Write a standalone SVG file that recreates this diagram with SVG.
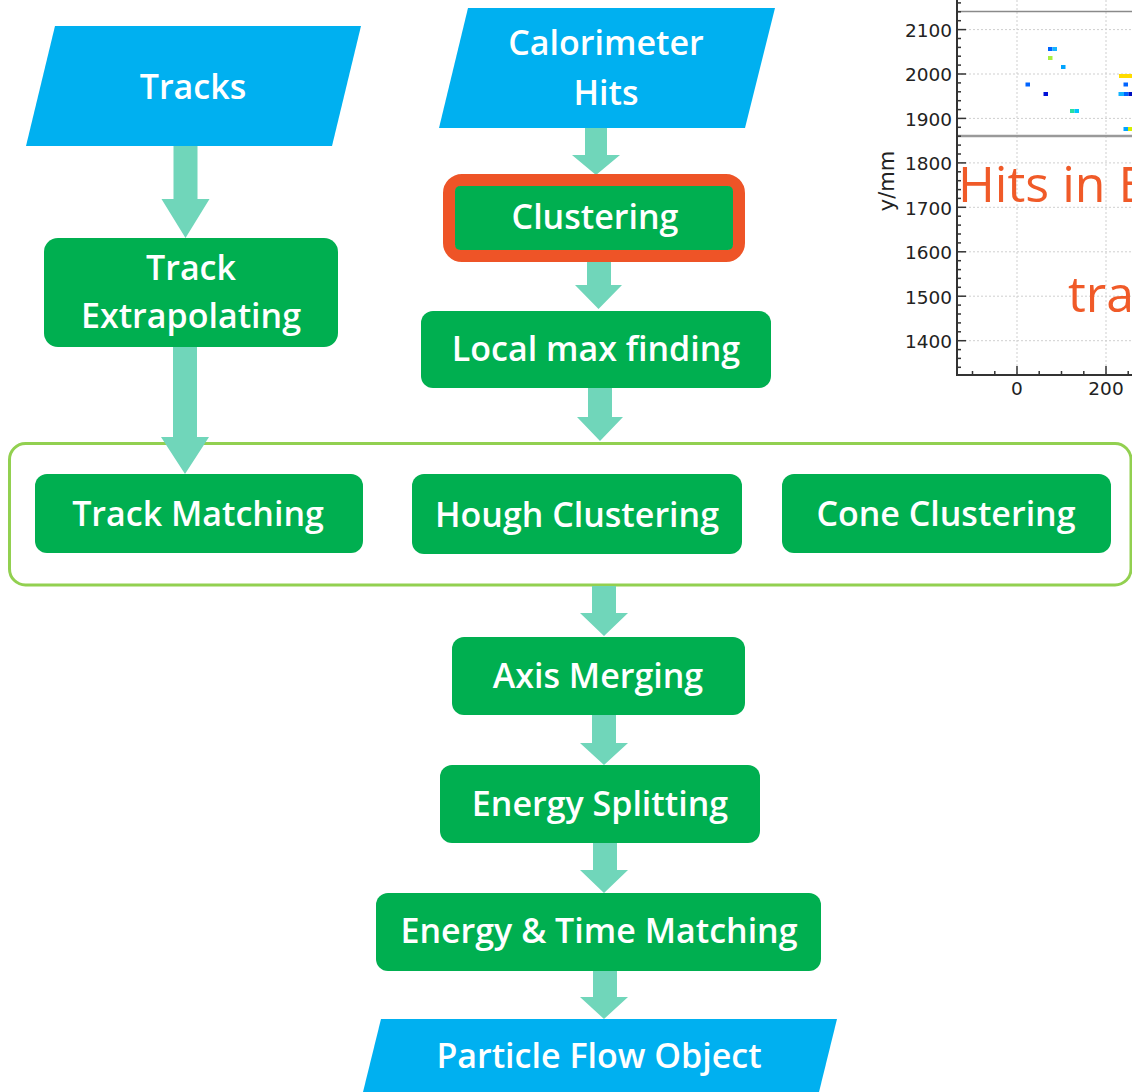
<svg xmlns="http://www.w3.org/2000/svg" width="1132" height="1092" viewBox="0 0 1132 1092">
  <style>
    .io { fill: #00B0F0; }
    .proc { fill: #00AF50; }
    .lbl { font-family: "Open Sans", "Liberation Sans", sans-serif; font-weight: 600; font-size: 34px; fill: #ffffff; text-anchor: middle; }
    .arrow { fill: #70D6BA; }
    .grid { stroke: #cfcfcf; stroke-width: 1; stroke-dasharray: 2 2; fill: none; }
    .axis { stroke: #333333; stroke-width: 2; fill: none; }
    .tick { stroke: #333333; stroke-width: 1.5; }
    .tlbl { font-family: "DejaVu Sans", sans-serif; font-size: 18.5px; fill: #222222; }
    .note { font-family: "Open Sans", "Liberation Sans", sans-serif; font-size: 50px; fill: #F05A28; }
  </style>

  <!-- event display inset (top right) -->
  <g id="plot">
    <!-- dotted grid -->
    <g class="grid">
      <line x1="957" y1="29.6" x2="1132" y2="29.6"/>
      <line x1="957" y1="74" x2="1132" y2="74"/>
      <line x1="957" y1="118.4" x2="1132" y2="118.4"/>
      <line x1="957" y1="162.9" x2="1132" y2="162.9"/>
      <line x1="957" y1="207.3" x2="1132" y2="207.3"/>
      <line x1="957" y1="251.8" x2="1132" y2="251.8"/>
      <line x1="957" y1="296.2" x2="1132" y2="296.2"/>
      <line x1="957" y1="340.7" x2="1132" y2="340.7"/>
      <line x1="1017" y1="0" x2="1017" y2="375"/>
      <line x1="1106" y1="0" x2="1106" y2="375"/>
    </g>
    <!-- detector boundaries -->
    <line x1="957" y1="11.5" x2="1132" y2="11.5" stroke="#8a8a8a" stroke-width="1.5"/>
    <line x1="957" y1="136" x2="1132" y2="136" stroke="#9a9a9a" stroke-width="2.5"/>
    <!-- hits -->
    <g>
      <rect x="1048" y="47" width="4.5" height="4" fill="#0064ff"/>
      <rect x="1052.5" y="47" width="4.5" height="4" fill="#14b4ff"/>
      <rect x="1048" y="56" width="4.5" height="4" fill="#a8f040"/>
      <rect x="1061" y="65" width="4.5" height="4" fill="#00a4ff"/>
      <rect x="1025.5" y="82.5" width="4.5" height="4" fill="#0064ff"/>
      <rect x="1043.5" y="92" width="4.5" height="4" fill="#0010d8"/>
      <rect x="1070" y="109" width="4.5" height="4" fill="#28e0a0"/>
      <rect x="1074.5" y="109" width="4.5" height="4" fill="#00c4ff"/>
      <rect x="1119" y="74" width="13" height="4" fill="#ffdc00"/>
      <rect x="1123.5" y="82.5" width="4.5" height="4" fill="#0064ff"/>
      <rect x="1118.5" y="92" width="5.5" height="4" fill="#14b4ff"/>
      <rect x="1124" y="92" width="4.5" height="4" fill="#0064ff"/>
      <rect x="1128.5" y="92" width="3.5" height="4" fill="#0010c0"/>
      <rect x="1123.5" y="127" width="4.5" height="4" fill="#00a4ff"/>
      <rect x="1128" y="127" width="4" height="4" fill="#d4f000"/>
    </g>
    <!-- axes -->
    <path class="axis" d="M957 0 V375 H1132"/>
    <!-- y ticks: major every 100, minor every 20 -->
    <g class="tick">
      <line x1="957" y1="29.6" x2="966" y2="29.6"/>
      <line x1="957" y1="74" x2="966" y2="74"/>
      <line x1="957" y1="118.4" x2="966" y2="118.4"/>
      <line x1="957" y1="162.9" x2="966" y2="162.9"/>
      <line x1="957" y1="207.3" x2="966" y2="207.3"/>
      <line x1="957" y1="251.8" x2="966" y2="251.8"/>
      <line x1="957" y1="296.2" x2="966" y2="296.2"/>
      <line x1="957" y1="340.7" x2="966" y2="340.7"/>
      <line x1="957" y1="2.9" x2="961" y2="2.9"/>
      <line x1="957" y1="11.8" x2="961" y2="11.8"/>
      <line x1="957" y1="20.7" x2="961" y2="20.7"/>
      <line x1="957" y1="38.5" x2="961" y2="38.5"/>
      <line x1="957" y1="47.4" x2="961" y2="47.4"/>
      <line x1="957" y1="56.2" x2="961" y2="56.2"/>
      <line x1="957" y1="65.1" x2="961" y2="65.1"/>
      <line x1="957" y1="82.9" x2="961" y2="82.9"/>
      <line x1="957" y1="91.8" x2="961" y2="91.8"/>
      <line x1="957" y1="100.7" x2="961" y2="100.7"/>
      <line x1="957" y1="109.6" x2="961" y2="109.6"/>
      <line x1="957" y1="127.3" x2="961" y2="127.3"/>
      <line x1="957" y1="136.2" x2="961" y2="136.2"/>
      <line x1="957" y1="145.1" x2="961" y2="145.1"/>
      <line x1="957" y1="154" x2="961" y2="154"/>
      <line x1="957" y1="171.8" x2="961" y2="171.8"/>
      <line x1="957" y1="180.7" x2="961" y2="180.7"/>
      <line x1="957" y1="189.6" x2="961" y2="189.6"/>
      <line x1="957" y1="198.4" x2="961" y2="198.4"/>
      <line x1="957" y1="216.2" x2="961" y2="216.2"/>
      <line x1="957" y1="225.1" x2="961" y2="225.1"/>
      <line x1="957" y1="234" x2="961" y2="234"/>
      <line x1="957" y1="242.9" x2="961" y2="242.9"/>
      <line x1="957" y1="260.7" x2="961" y2="260.7"/>
      <line x1="957" y1="269.6" x2="961" y2="269.6"/>
      <line x1="957" y1="278.4" x2="961" y2="278.4"/>
      <line x1="957" y1="287.3" x2="961" y2="287.3"/>
      <line x1="957" y1="305.1" x2="961" y2="305.1"/>
      <line x1="957" y1="314" x2="961" y2="314"/>
      <line x1="957" y1="322.9" x2="961" y2="322.9"/>
      <line x1="957" y1="331.8" x2="961" y2="331.8"/>
      <line x1="957" y1="349.6" x2="961" y2="349.6"/>
      <line x1="957" y1="358.4" x2="961" y2="358.4"/>
      <line x1="957" y1="367.3" x2="961" y2="367.3"/>
      <!-- x ticks -->
      <line x1="1017" y1="375" x2="1017" y2="366"/>
      <line x1="1106" y1="375" x2="1106" y2="366"/>
      <line x1="972.5" y1="375" x2="972.5" y2="371"/>
      <line x1="994.8" y1="375" x2="994.8" y2="371"/>
      <line x1="1039.2" y1="375" x2="1039.2" y2="371"/>
      <line x1="1061.5" y1="375" x2="1061.5" y2="371"/>
      <line x1="1083.8" y1="375" x2="1083.8" y2="371"/>
      <line x1="1128.2" y1="375" x2="1128.2" y2="371"/>
    </g>
    <g class="tlbl" text-anchor="end">
      <text x="952" y="36.5">2100</text>
      <text x="952" y="81">2000</text>
      <text x="952" y="125.5">1900</text>
      <text x="952" y="170">1800</text>
      <text x="952" y="214.5">1700</text>
      <text x="952" y="259">1600</text>
      <text x="952" y="303.5">1500</text>
      <text x="952" y="348">1400</text>
    </g>
    <g class="tlbl" text-anchor="middle">
      <text x="1017" y="395">0</text>
      <text x="1106" y="395">200</text>
    </g>
    <text class="tlbl" text-anchor="middle" style="font-size:21px" transform="translate(894 181) rotate(-90)">y/mm</text>
    <text class="note" x="958" y="202">Hits in E</text>
    <text class="note" x="1068" y="312">tra</text>
  </g>

  <!-- group box around the three matching / clustering steps -->
  <rect id="stage-box" x="9.5" y="443.5" width="1121.5" height="141.5" rx="16" fill="none" stroke="#92D050" stroke-width="3"/>

  <!-- connectors -->
  <g id="connectors" class="arrow">
    <polygon points="173.5,146 197.5,146 197.5,199 209.5,199 185.5,238 161.5,199 173.5,199"/>
    <polygon points="173,347 197,347 197,437 209,437 185,474 161,437 173,437"/>
    <polygon points="585,128 607,128 607,155 620,155 596,175 572,155 585,155"/>
    <polygon points="587,262 611,262 611,285 622,285 598.5,309 575,285 587,285"/>
    <polygon points="588,388 612,388 612,417 623,417 600,441 577,417 588,417"/>
    <polygon points="592,586 616,586 616,613 628,613 604,636 580,613 592,613"/>
    <polygon points="592,715 616,715 616,743 628,743 604,765 580,743 592,743"/>
    <polygon points="593,843 617,843 617,870 628,870 604,893 580,870 593,870"/>
    <polygon points="593,971 617,971 617,997 628,997 604,1019 580,997 593,997"/>
  </g>

  <!-- inputs -->
  <g id="tracks">
    <polygon class="io" points="55,26 361,26 332,146 26,146"/>
    <text class="lbl" x="193" y="99">Tracks</text>
  </g>
  <g id="calorimeter-hits">
    <polygon class="io" points="468,8 775,8 745,128 439,128"/>
    <text class="lbl" x="606" y="55">Calorimeter</text>
    <text class="lbl" x="606" y="105">Hits</text>
  </g>

  <!-- processing steps -->
  <g id="track-extrapolating">
    <rect class="proc" x="44" y="238" width="294" height="109" rx="14"/>
    <text class="lbl" x="191" y="280">Track</text>
    <text class="lbl" x="191" y="328">Extrapolating</text>
  </g>
  <g id="clustering">
    <rect x="449" y="180" width="290" height="76" rx="13" fill="none" stroke="#EE5427" stroke-width="12"/>
    <rect class="proc" x="455" y="186" width="278" height="64" rx="5"/>
    <text class="lbl" x="595" y="229">Clustering</text>
  </g>
  <g id="local-max-finding">
    <rect class="proc" x="421" y="311" width="350" height="77" rx="12"/>
    <text class="lbl" x="596" y="361">Local max finding</text>
  </g>
  <g id="track-matching">
    <rect class="proc" x="35" y="474" width="328" height="79" rx="12"/>
    <text class="lbl" x="198" y="526">Track Matching</text>
  </g>
  <g id="hough-clustering">
    <rect class="proc" x="412" y="474" width="330" height="80" rx="12"/>
    <text class="lbl" x="577" y="527">Hough Clustering</text>
  </g>
  <g id="cone-clustering">
    <rect class="proc" x="782" y="474" width="329" height="79" rx="12"/>
    <text class="lbl" x="946" y="526">Cone Clustering</text>
  </g>
  <g id="axis-merging">
    <rect class="proc" x="452" y="637" width="293" height="78" rx="12"/>
    <text class="lbl" x="598" y="688">Axis Merging</text>
  </g>
  <g id="energy-splitting">
    <rect class="proc" x="440" y="765" width="320" height="78" rx="12"/>
    <text class="lbl" x="600" y="816">Energy Splitting</text>
  </g>
  <g id="energy-time-matching">
    <rect class="proc" x="376" y="893" width="445" height="78" rx="12"/>
    <text class="lbl" x="599" y="943">Energy &amp; Time Matching</text>
  </g>

  <!-- output -->
  <g id="particle-flow-object">
    <polygon class="io" points="381,1019 837,1019 819,1092 363,1092"/>
    <text class="lbl" x="599" y="1068">Particle Flow Object</text>
  </g>
</svg>
